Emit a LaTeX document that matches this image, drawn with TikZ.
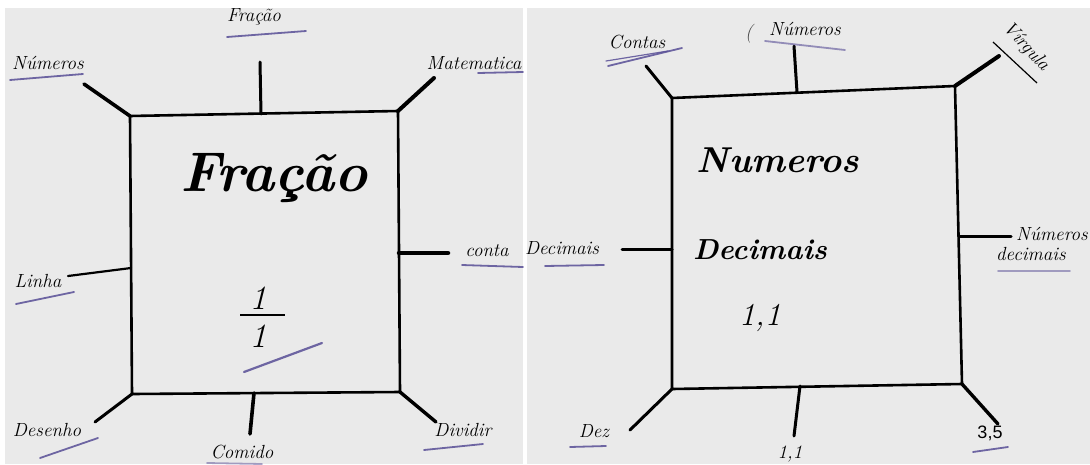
\documentclass[tikz,border=0pt]{standalone}
\usepackage{fontspec}
\newfontfamily\numfont{Liberation Sans}
\newcommand\hw{\itshape}
\definecolor{paper}{RGB}{234,234,234}
\definecolor{ink}{RGB}{88,78,150}
\tikzset{
  spoke/.style={line width=3pt, line cap=round},
  boxline/.style={line width=2.6pt, line join=round},
  lbl/.style={font=\hw\fontsize{19}{19}\selectfont, inner sep=0pt},
  big/.style={font=\hw\fontsize{#1}{#1}\selectfont, inner sep=0pt},
  bigb/.style={font=\hw\bfseries\fontsize{#1}{#1}\selectfont, inner sep=0pt},
  uline/.style={draw=ink, line width=1.8pt, line cap=round, opacity=0.85},
}
\begin{document}
\begin{tikzpicture}[x=1pt,y=-1pt]
\fill[white] (0,0) rectangle (1090,464);
\fill[paper] (5,8) rectangle (523,464);
\fill[paper] (527,8) rectangle (1090,464);
\useasboundingbox (0,0) rectangle (1090,464);

% ---------- left diagram ----------
\coordinate (aTL) at (130,116);
\coordinate (aTR) at (398,111);
\coordinate (aBR) at (400,392);
\coordinate (aBL) at (132,394);
\draw[boxline] (aTL) -- (aTR) -- (aBR) -- (aBL) -- cycle;

\coordinate (aT) at (261,114);   \coordinate (aTe) at (260,62);
\coordinate (aTLe) at (84,84);
\coordinate (aTRe) at (434,78);
\coordinate (aL) at (131,268);   \coordinate (aLe) at (68,276);
\coordinate (aR) at (399,253);   \coordinate (aRe) at (448,253);
\coordinate (aBLe) at (95,422);
\coordinate (aB) at (254,393);   \coordinate (aBe) at (250,434);
\coordinate (aBRe) at (436,422);

\draw[spoke] (aT) -- (aTe);
\draw[spoke,line width=3.6pt] (aTL) -- (aTLe);
\draw[spoke,line width=4pt] (aTR) -- (aTRe);
\draw[spoke,line width=2.2pt] (aL) -- (aLe);
\draw[spoke,line width=4.5pt] (aR) -- (aRe);
\draw[spoke] (aBL) -- (aBLe);
\draw[spoke,line width=3.6pt] (aB) -- (aBe);
\draw[spoke,line width=3.4pt] (aBR) -- (aBRe);

\node[lbl] (lFracao) at (254,17) {Fração};
\draw[uline] (227,37) -- (306,31);
\node[lbl] (lNum) at (48,63) {Números};
\draw[uline] (10,80) -- (83,74);
\node[lbl] (lMat) at (474,63) {Matematica};
\draw[uline] (478,73) -- (523,72);
\node[lbl] (lLinha) at (38,281) {Linha};
\draw[uline] (16,304) -- (74,292);
\node[lbl] (lConta) at (487,251) {conta};
\draw[uline] (462,265) -- (523,267);
\node[lbl] (lDes) at (47,430) {Desenho};
\draw[uline] (40,458) -- (98,438);
\node[lbl] (lCom) at (242,452) {Comido};
\draw[uline,opacity=0.5] (207,463) -- (262,464);
\node[lbl] (lDiv) at (463,430) {Dividir};
\draw[uline] (424,450) -- (483,444);

\node[bigb=56] (cFracao) at (274,178) {Fração};
\node[big=34] (num) at (258,298) {1};
\draw[line width=1.8pt] (240,315) -- (285,315);
\node[big=34] (den) at (258,336) {1};
\draw[uline,line width=2.2pt] (244,372) -- (322,343);

% ---------- right diagram ----------
\coordinate (bTL) at (672,98);
\coordinate (bTR) at (955,86);
\coordinate (bBR) at (962,384);
\coordinate (bBL) at (672,389);
\draw[boxline] (bTL) -- (bTR) -- (bBR) -- (bBL) -- cycle;

\coordinate (bT) at (797,92);    \coordinate (bTe) at (794,46);
\coordinate (bTLe) at (646,66);
\coordinate (bTRe) at (999,56);
\coordinate (bL) at (672,249);   \coordinate (bLe) at (622,249);
\coordinate (bR) at (959,236);   \coordinate (bRe) at (1011,236);
\coordinate (bBLe) at (630,430);
\coordinate (bB) at (800,386);   \coordinate (bBe) at (794,436);
\coordinate (bBRe) at (998,424);

\draw[spoke] (bT) -- (bTe);
\draw[spoke] (bTL) -- (bTLe);
\draw[spoke,line width=4pt] (bTR) -- (bTRe);
\draw[spoke] (bL) -- (bLe);
\draw[spoke] (bR) -- (bRe);
\draw[spoke] (bBL) -- (bBLe);
\draw[spoke] (bB) -- (bBe);
\draw[spoke,line width=3.4pt] (bBR) -- (bBRe);

\node[lbl] (rContas) at (637,42) {Contas};
\draw[uline] (608,66) -- (682,48);
\draw[uline,line width=1.2pt] (606,61) -- (668,51);
\node[lbl,opacity=0.7] (rPar) at (749,34) {(};
\node[lbl] (rNum) at (805,29) {Números};
\draw[uline,opacity=0.6] (765,41) -- (845,50);
\node[lbl,rotate=-47] (rVirg) at (1026,47) {Vírgula};
\draw[line width=1.2pt] (993,42) -- (1037,83);
\node[lbl] (rDec) at (562,248) {Decimais};
\draw[uline] (545,266) -- (604,265);
\node[lbl,align=left] (rNumDec) at (1042,244) {\hspace*{20pt}Números\\[1pt]decimais};
\draw[uline,opacity=0.5] (998,271) -- (1070,271);
\node[lbl] (rDez) at (594,431) {Dez};
\draw[uline] (570,447) -- (606,446);
\node[lbl] (rOne) at (790,454) {1,1};
\node[font=\numfont\fontsize{18}{18}\selectfont, inner sep=0pt] (rTres) at (990,433) {3,5};
\draw[uline] (973,452) -- (1008,447);

\node[bigb=36] (cNum) at (778,160) {Numeros};
\node[bigb=29] (cDec) at (760,250) {Decimais};
\node[big=32] (cOne) at (760,318) {1,1};
\end{tikzpicture}
\end{document}
